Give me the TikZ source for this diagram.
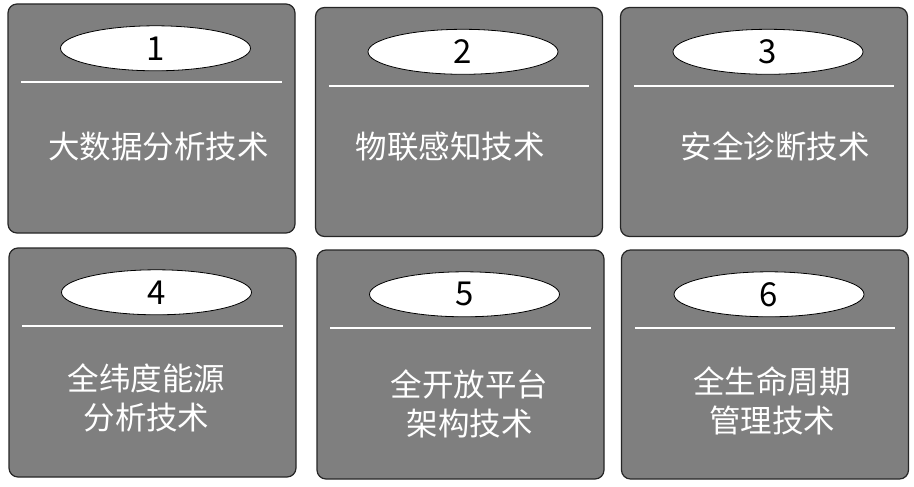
\documentclass[tikz,border=0pt]{standalone}
\usepackage{fontspec}
\setmainfont{Noto Sans CJK SC}
\usetikzlibrary{positioning,shapes.geometric}
\definecolor{cardgray}{RGB}{127,127,127}

\begin{document}
\begin{tikzpicture}[%
		x=1pt,
		y=-1pt,
		card/.style={%
			draw=black!85,
			line width=1.2pt,
			fill=cardgray,
			rounded corners=9pt,
			minimum width=287pt,
			minimum height=229pt,
			inner sep=0pt
		},
		tag/.style={%
			ellipse,
			draw=black,
			line width=0.8pt,
			fill=white,
			minimum width=190pt,
			minimum height=45pt,
			inner sep=0pt,
			font=\fontsize{33}{33}\selectfont
		},
		rule/.style={%
			draw=white,
			line width=2pt
		},
		caption/.style={%
			text=white,
			align=center,
			inner sep=0pt,
			font=\fontsize{31.5}{39}\selectfont
		}
		]
		\useasboundingbox (0,0) rectangle (914,487);
		
		\node[card] (b1) at (151.5,118.5) {};
		\node[card] (b2) at (459,122)     {};
		\node[card] (b3) at (764,122)     {};
		\node[card] (b4) at (152.5,362.5) {};
		\node[card] (b5) at (460.5,364.5) {};
		\node[card] (b6) at (765,364.5)   {};
		
		\node[tag] (t1) [below=22pt of b1.north, xshift=4pt] {1};
		\node[tag] (t2) [below=22pt of b2.north, xshift=4pt] {2};
		\node[tag] (t3) [below=22pt of b3.north, xshift=4pt] {3};
		\node[tag] (t4) [below=22pt of b4.north, xshift=4pt] {4};
		\node[tag] (t5) [below=22pt of b5.north, xshift=4pt] {5};
		\node[tag] (t6) [below=22pt of b6.north, xshift=4pt] {6};
		
		\draw[rule] ([shift={(14,79)}]b1.north west) -- ([shift={(-14,79)}]b1.north east);
		\draw[rule] ([shift={(14,79)}]b2.north west) -- ([shift={(-14,79)}]b2.north east);
		\draw[rule] ([shift={(14,79)}]b3.north west) -- ([shift={(-14,79)}]b3.north east);
		\draw[rule] ([shift={(14,79)}]b4.north west) -- ([shift={(-14,79)}]b4.north east);
		\draw[rule] ([shift={(14,79)}]b5.north west) -- ([shift={(-14,79)}]b5.north east);
		\draw[rule] ([shift={(14,79)}]b6.north west) -- ([shift={(-14,79)}]b6.north east);
		
		\node[caption] (c1) at ([shift={(7,143)}]b1.north)  {大数据分析技术};
		\node[caption] (c2) at ([shift={(-9,140)}]b2.north) {物联感知技术};
		\node[caption] (c3) at ([shift={(11,140)}]b3.north) {安全诊断技术};
		\node[caption] (c4) at ([shift={(-6,151)}]b4.north) {全纬度能源\\分析技术};
		\node[caption] (c5) at ([shift={(9,154)}]b5.north)  {全开放平台\\架构技术};
		\node[caption] (c6) at ([shift={(7,151)}]b6.north)  {全生命周期\\管理技术};
		\end{tikzpicture}
\end{document}
